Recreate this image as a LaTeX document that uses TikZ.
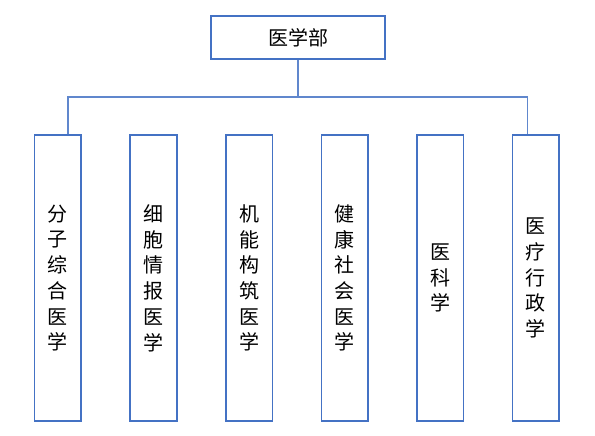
\documentclass[tikz,border=0pt]{standalone}
\usepackage{fontspec}
\newfontfamily\cjk{Noto Sans CJK SC}
\definecolor{office}{RGB}{68,114,196}
\usetikzlibrary{positioning}

\begin{document}
\begin{tikzpicture}[x=1pt, y=1pt,
          head/.style={draw=office, line width=1.6pt,
                       minimum width=174.4pt, minimum height=43.4pt,
                       font=\cjk\fontsize{20}{25.7}\selectfont},
          dept/.style={draw=office, line width=1.6pt, inner sep=0pt,
                       minimum width=46.7pt, minimum height=285.7pt, align=center,
                       font=\cjk\fontsize{20}{25.7}\selectfont},
          link/.style={draw=office!85, line width=1.6pt}
        ]
          \useasboundingbox (0,0) rectangle (595,436);
          \node[head] (top) at (298,398.5) {医学部};
          \node[dept] (m1) at (57.9,157.9) {分\\子\\综\\合\\医\\学};
          \node[dept, right=47.3pt of m1] (m2) {细\\胞\\情\\报\\医\\学};
          \node[dept, right=47.3pt of m2] (m3) {机\\能\\构\\筑\\医\\学};
          \node[dept, right=47.3pt of m3] (m4) {健\\康\\社\\会\\医\\学};
          \node[dept, right=47.3pt of m4] (m5) {医\\科\\学};
          \node[dept, right=47.3pt of m5] (m6) {医\\疗\\行\\政\\学};
          \coordinate (barL) at (67.7,338.7);
          \coordinate (barR) at (527.3,338.7);
          \draw[link] (top.south) -- (top.south |- barL);
          \draw[link] (m1.north -| barL) -- (barL) -- (barR) -- (m6.north -| barR);
        \end{tikzpicture}
\end{document}
